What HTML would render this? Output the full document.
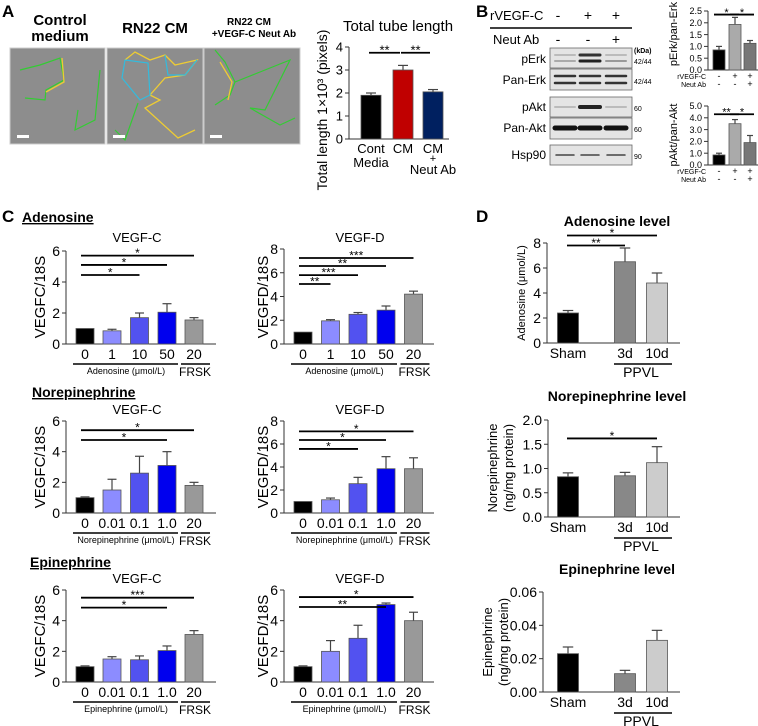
<!DOCTYPE html>
<html><head><meta charset="utf-8"><style>
body{margin:0;background:#fff}
svg{display:block;font-family:"Liberation Sans",Arial,sans-serif}
</style></head><body>
<svg id="fig" width="758" height="726" viewBox="0 0 758 726">
<g id="static">
<text x="2" y="17" font-size="17" font-weight="bold">A</text>
<text x="476" y="17" font-size="17" font-weight="bold">B</text>
<text x="2" y="222" font-size="17" font-weight="bold">C</text>
<text x="476" y="222" font-size="17" font-weight="bold">D</text>
<text x="60" y="25" font-size="15" font-weight="bold" text-anchor="middle">Control</text>
<text x="60" y="41" font-size="15" font-weight="bold" text-anchor="middle">medium</text>
<text x="155" y="33" font-size="15" font-weight="bold" text-anchor="middle">RN22 CM</text>
<text x="249" y="25" font-size="10" font-weight="bold" text-anchor="middle">RN22 CM</text>
<text x="254" y="37" font-size="10" font-weight="bold" text-anchor="middle">+VEGF-C Neut Ab</text>
<g>
<rect x="10" y="48" width="95" height="96" fill="#8d8d8d" stroke="#ccc"/>
<rect x="107" y="48" width="96" height="96" fill="#8d8d8d" stroke="#ccc"/>
<rect x="204" y="48" width="96" height="96" fill="#8d8d8d" stroke="#ccc"/>
<polyline points="20,70 40,65 60,58 64,80 46,90 45,100 25,98" fill="none" stroke="#3c3" stroke-width="1.2"/>
<polyline points="62,58 64,82 46,92" fill="none" stroke="#ec3" stroke-width="1.3"/>
<polyline points="78,110 75,130 95,120 100,70" fill="none" stroke="#3c3" stroke-width="1.2"/>
<polyline points="125,60 135,52 150,60 165,55 175,65 197,60 185,75 165,78 150,95 160,100 145,108 178,138 195,130" fill="none" stroke="#ec3" stroke-width="1.3"/>
<polyline points="125,60 122,78 140,100 150,95 148,63 125,60" fill="none" stroke="#3bd" stroke-width="1.2"/>
<polyline points="165,55 168,75 185,75 197,60" fill="none" stroke="#3bd" stroke-width="1.2"/>
<polyline points="138,103 125,140 115,130" fill="none" stroke="#3c3" stroke-width="1.2"/>
<polyline points="215,50 225,62 235,82 230,95 215,105" fill="none" stroke="#3c3" stroke-width="1.2"/>
<polyline points="220,62 232,82 228,100" fill="none" stroke="#ec3" stroke-width="1.3"/>
<polyline points="235,82 260,72 290,60 265,110 250,108 280,125 295,118" fill="none" stroke="#3c3" stroke-width="1.2"/>
<rect x="17" y="135" width="12" height="3" fill="#fff"/><rect x="113" y="135" width="12" height="3" fill="#fff"/><rect x="210" y="135" width="12" height="3" fill="#fff"/>
</g>
<text x="398" y="31" font-size="15" text-anchor="middle">Total tube length</text>
<text transform="translate(327,110) rotate(-90)" font-size="14" text-anchor="middle">Total length 1×10³ (pixels)</text>
<g font-size="12">
<text x="490" y="20" font-size="13">rVEGF-C</text>
<text x="558" y="20" font-size="14" text-anchor="middle">-</text><text x="588" y="20" font-size="14" text-anchor="middle">+</text><text x="616" y="20" font-size="14" text-anchor="middle">+</text>
<line x1="490" y1="28" x2="632" y2="28" stroke="#000" stroke-width="1.5"/>
<text x="493" y="44" font-size="13">Neut Ab</text>
<text x="558" y="44" font-size="14" text-anchor="middle">-</text><text x="588" y="44" font-size="14" text-anchor="middle">-</text><text x="616" y="44" font-size="14" text-anchor="middle">+</text>
<text x="634" y="53" font-size="7" font-weight="bold">(kDa)</text>
<text x="546" y="63" text-anchor="end">pErk</text><text x="546" y="84" text-anchor="end">Pan-Erk</text>
<text x="546" y="111" text-anchor="end">pAkt</text><text x="546" y="132" text-anchor="end">Pan-Akt</text>
<text x="546" y="159" text-anchor="end">Hsp90</text>
<g font-size="7"><text x="634" y="64">42/44</text><text x="634" y="84">42/44</text><text x="634" y="111">60</text><text x="634" y="132">60</text><text x="634" y="159">90</text></g>
<g fill="#e4e4e4" stroke="#666" stroke-width="0.8">
<rect x="550" y="48" width="82" height="20"/><rect x="550" y="69" width="82" height="21"/>
<rect x="550" y="97" width="82" height="20"/><rect x="550" y="118" width="82" height="21"/><rect x="550" y="145" width="82" height="20"/></g>
<g stroke-linecap="round">
<line x1="555" y1="55" x2="575" y2="55" stroke="#bbb" stroke-width="2"/><line x1="555" y1="61" x2="575" y2="61" stroke="#aaa" stroke-width="2"/>
<line x1="580" y1="55" x2="600" y2="55" stroke="#333" stroke-width="3"/><line x1="580" y1="61" x2="600" y2="61" stroke="#222" stroke-width="3"/>
<line x1="606" y1="55" x2="626" y2="55" stroke="#bbb" stroke-width="2"/><line x1="606" y1="61" x2="626" y2="61" stroke="#999" stroke-width="2"/>
<line x1="555" y1="76" x2="575" y2="76" stroke="#333" stroke-width="2.5"/><line x1="555" y1="83" x2="575" y2="83" stroke="#333" stroke-width="2.5"/>
<line x1="580" y1="76" x2="600" y2="76" stroke="#333" stroke-width="2.5"/><line x1="580" y1="83" x2="600" y2="83" stroke="#333" stroke-width="2.5"/>
<line x1="606" y1="76" x2="626" y2="76" stroke="#333" stroke-width="2.5"/><line x1="606" y1="83" x2="626" y2="83" stroke="#333" stroke-width="2.5"/>
<line x1="555" y1="107" x2="575" y2="107" stroke="#bbb" stroke-width="2"/><line x1="580" y1="107" x2="600" y2="107" stroke="#222" stroke-width="4"/><line x1="606" y1="107" x2="626" y2="107" stroke="#bbb" stroke-width="2"/>
<line x1="555" y1="128" x2="575" y2="128" stroke="#111" stroke-width="5"/><line x1="580" y1="128" x2="600" y2="128" stroke="#111" stroke-width="5"/><line x1="606" y1="128" x2="626" y2="128" stroke="#111" stroke-width="5"/>
<line x1="556" y1="155" x2="574" y2="155" stroke="#444" stroke-width="1.5"/><line x1="581" y1="155" x2="599" y2="155" stroke="#444" stroke-width="1.5"/><line x1="607" y1="155" x2="625" y2="155" stroke="#444" stroke-width="1.5"/>
</g></g>
<text transform="translate(677,34) rotate(-90)" font-size="11" text-anchor="middle">pErk/pan-Erk</text>
<text transform="translate(677,135) rotate(-90)" font-size="11" text-anchor="middle">pAkt/pan-Akt</text>
<g font-size="14" font-weight="bold" text-decoration="underline">
<text x="22" y="222">Adenosine</text>
<text x="32" y="397">Norepinephrine</text>
<text x="30" y="567">Epinephrine</text></g>
<g font-size="13" text-anchor="middle">
<text x="137" y="242">VEGF-C</text>
<text x="360" y="242">VEGF-D</text>
<text x="137" y="414">VEGF-C</text>
<text x="360" y="414">VEGF-D</text>
<text x="137" y="583">VEGF-C</text>
<text x="360" y="583">VEGF-D</text></g>
<g font-size="14" font-weight="bold" text-anchor="middle">
<text x="617" y="226">Adenosine level</text>
<text x="617" y="401">Norepinephrine level</text>
<text x="617" y="574">Epinephrine level</text></g>
<g font-size="15" text-anchor="middle">
<text transform="translate(45,297) rotate(-90)">VEGFC/18S</text>
<text transform="translate(268,297) rotate(-90)">VEGFD/18S</text>
<text transform="translate(45,467) rotate(-90)">VEGFC/18S</text>
<text transform="translate(268,467) rotate(-90)">VEGFD/18S</text>
<text transform="translate(45,636) rotate(-90)">VEGFC/18S</text>
<text transform="translate(268,636) rotate(-90)">VEGFD/18S</text></g>
<text transform="translate(525,293) rotate(-90)" font-size="11" text-anchor="middle">Adenosine (μmol/L)</text>
<g font-size="13" text-anchor="middle">
<text transform="translate(497,468) rotate(-90)">Norepinephrine</text>
<text transform="translate(513,468) rotate(-90)">(ng/mg protein)</text>
<text transform="translate(492,642) rotate(-90)">Epinephrine</text>
<text transform="translate(508,642) rotate(-90)">(ng/mg protein)</text></g>
</g>
<g id="charts"></g>
</svg>
<script>
// ---- data ----
const aCats = ['Cont', 'CM', 'CM'];
const aVals = [1.9, 3.0, 2.05];
const aErrs = [0.1, 0.2, 0.1];
const bErkVals = [0.85, 1.93, 1.13];
const bErkErrs = [0.15, 0.3, 0.12];
const bAktVals = [0.85, 3.5, 1.9];
const bAktErrs = [0.15, 0.35, 0.6];
const bRvegf = ['-', '+', '+'];
const bNeut = ['-', '-', '+'];
const adCats = ['0', '1', '10', '50', '20'];
const neCats = ['0', '0.01', '0.1', '1.0', '20'];
const adCVals = [1.0, 0.85, 1.7, 2.05, 1.55];
const adCErrs = [0, 0.1, 0.3, 0.55, 0.15];
const adDVals = [1.0, 1.95, 2.5, 2.85, 4.2];
const adDErrs = [0, 0.1, 0.15, 0.35, 0.25];
const neCVals = [1.0, 1.5, 2.6, 3.1, 1.8];
const neCErrs = [0.05, 0.7, 1.1, 0.9, 0.2];
const neDVals = [1.0, 1.15, 2.55, 3.85, 3.85];
const neDErrs = [0, 0.15, 0.55, 1.05, 0.95];
const epCVals = [1.0, 1.5, 1.45, 2.05, 3.1];
const epCErrs = [0.05, 0.15, 0.25, 0.3, 0.25];
const epDVals = [1.0, 2.0, 2.85, 5.05, 4.0];
const epDErrs = [0.05, 0.7, 0.85, 0.1, 0.55];
const dCats = ['Sham', '3d', '10d'];
const dAdVals = [2.4, 6.5, 4.8];
const dAdErrs = [0.2, 1.1, 0.8];
const dNeVals = [0.83, 0.85, 1.12];
const dNeErrs = [0.08, 0.07, 0.33];
const dEpVals = [0.023, 0.011, 0.031];
const dEpErrs = [0.004, 0.002, 0.006];
const ticks6 = [0, 2, 4, 6];
const ticks8 = [0, 2, 4, 6, 8];
const ticksD2 = [0, 0.5, 1.0, 1.5, 2.0];
const ticksD06 = [0, 0.02, 0.04, 0.06];

const NS = 'http://www.w3.org/2000/svg';
const root = document.getElementById('charts');
function mk(tag, attrs, parent, txt) {
  const e = document.createElementNS(NS, tag);
  for (const k in attrs) e.setAttribute(k, attrs[k]);
  if (txt !== undefined) e.textContent = txt;
  (parent || root).appendChild(e);
  return e;
}
function barChart(c) {
  const g = mk('g', {});
  
  
  const y = v => c.y0 - (v / c.max) * (c.y0 - c.yTop);
  const cx = i => c.pos[i];
  c.ticks.forEach(t => {
    mk('line', {x1: c.ax - 4, x2: c.ax, y1: y(t), y2: y(t), stroke: '#333', 'stroke-width': 1}, g);
    const tl = mk('text', {x: c.ax - 6, y: y(t) + c.fs * 0.36, 'font-size': c.fs, 'text-anchor': 'end'}, g, c.fmt ? c.fmt(t) : String(t));
    
    
  });
  mk('line', {x1: c.ax, x2: c.ax, y1: y(c.ticks[c.ticks.length - 1]), y2: c.y0, stroke: '#333', 'stroke-width': 1}, g);
  mk('line', {x1: c.ax, x2: c.axEnd, y1: c.y0, y2: c.y0, stroke: '#333', 'stroke-width': 1}, g);
  c.vals.forEach((v, i) => {
    const x = cx(i), top = y(v + c.errs[i]);
    if (c.errs[i] > 0) {
      mk('line', {x1: x, x2: x, y1: y(v), y2: top, stroke: '#444', 'stroke-width': 1.2}, g);
      mk('line', {x1: x - c.bw / 4, x2: x + c.bw / 4, y1: top, y2: top, stroke: '#444', 'stroke-width': 1.2}, g);
    }
    const r = mk('rect', {x: x - c.bw / 2, y: y(v), width: c.bw, height: c.y0 - y(v), fill: c.colors[i], stroke: '#555', 'stroke-width': 0.8}, g);
    
    
  });
  (c.sig || []).forEach(s => {
    const sy = y(s[2]);
    const x1 = cx(s[0]) + (c.sigL || 0), x2 = cx(s[1]) + (c.sigR || 0);
    mk('line', {x1, x2, y1: sy, y2: sy, stroke: '#000', 'stroke-width': 1.8}, g);
    const st = mk('text', {x: (x1 + x2) / 2, y: sy + c.starFs * 0.12, 'font-size': c.starFs, 'text-anchor': 'middle'}, g, s[3]);
    
    
  });
  if (c.cats) c.cats.forEach((t, i) => {
    const tl = mk('text', {x: cx(i), y: c.y0 + c.catDy, 'font-size': c.catFs, 'text-anchor': 'middle'}, g, t);
    
    
  });
  return {g, y, cx};
}
// Panel A
const A = barChart({name: 'chart-a-tube-length', ax: 349, axEnd: 449, y0: 139, yTop: 47, max: 4, ticks: [0, 1, 2, 3, 4], fs: 13,
  pos: [371, 403, 433], bw: 20, vals: aVals, errs: aErrs, colors: ['#000', '#c00000', '#002060'],
  sig: [[0, 1, 3.75, '**'], [1, 2, 3.75, '**']], sigL: -2, sigR: -3, starFs: 13, cats: aCats, catDy: 14, catFs: 13});
mk('text', {x: A.cx(0), y: 167, 'font-size': 13, 'text-anchor': 'middle'}, A.g, 'Media');
mk('text', {x: A.cx(2), y: 162, 'font-size': 11, 'text-anchor': 'middle'}, A.g, '+');
mk('text', {x: A.cx(2), y: 174, 'font-size': 13, 'text-anchor': 'middle'}, A.g, 'Neut Ab');
// Panel B
function bChart(name, vals, errs, y0, yTop, max, ticks, sig) {
  const r = barChart({name, ax: 708, axEnd: 758, y0, yTop, max, ticks, fmt: t => t.toFixed(1), fs: 9, pos: [719, 735, 750], bw: 12,
    vals, errs, colors: ['#000', '#aaa', '#777'], sig, sigL: -5, sigR: 4, starFs: 11});
  mk('text', {x: 706, y: y0 + 9, 'font-size': 7, 'text-anchor': 'end'}, r.g, 'rVEGF-C');
  mk('text', {x: 706, y: y0 + 17, 'font-size': 7, 'text-anchor': 'end'}, r.g, 'Neut Ab');
  bRvegf.forEach((s, i) => mk('text', {x: r.cx(i), y: y0 + 9, 'font-size': 9, 'text-anchor': 'middle'}, r.g, s));
  bNeut.forEach((s, i) => mk('text', {x: r.cx(i), y: y0 + 17, 'font-size': 9, 'text-anchor': 'middle'}, r.g, s));
}
bChart('chart-b-perk', bErkVals, bErkErrs, 70, 11, 2.5, [0, 0.5, 1, 1.5, 2, 2.5], [[0, 1, 2.35, '*'], [1, 2, 2.35, '*']]);
bChart('chart-b-pakt', bAktVals, bAktErrs, 165, 106, 5, [0, 1, 2, 3, 4, 5], [[0, 1, 4.3, '**'], [1, 2, 4.3, '*']]);
// Panel C
const cColors = ['#000', '#8c8cff', '#5252f0', '#0000ee', '#999'];
function cChart(name, ax, pos, y0, yTop, max, ticks, cats, vals, errs, sig, cap) {
  const r = barChart({name, ax, axEnd: ax + 150, y0, yTop, max, ticks, fs: 14, pos, bw: 18,
    vals, errs, colors: cColors, sig, sigL: -4, sigR: 0, starFs: 12, cats, catDy: 15, catFs: 14});
  mk('line', {x1: r.cx(0) - 12, x2: r.cx(3) + 11, y1: y0 + 20, y2: y0 + 20, stroke: '#000', 'stroke-width': 1.5}, r.g);
  mk('line', {x1: r.cx(4) - 13, x2: r.cx(4) + 16, y1: y0 + 20, y2: y0 + 20, stroke: '#000', 'stroke-width': 1.5}, r.g);
  mk('text', {x: (r.cx(0) + r.cx(3)) / 2, y: y0 + 30, 'font-size': 9, 'text-anchor': 'middle'}, r.g, cap);
  mk('text', {x: r.cx(4) + 1, y: y0 + 32, 'font-size': 12, 'text-anchor': 'middle'}, r.g, 'FRSK');
}
const posL = [85, 112, 139.5, 167, 194];
const posR = [303, 330.5, 358, 386, 413.5];
cChart('chart-ad-vegfc', 66, posL, 344, 251, 6, ticks6, adCats, adCVals, adCErrs, [[0, 4, 5.7, '*'], [0, 3, 5.1, '*'], [0, 2, 4.45, '*']], 'Adenosine (μmol/L)');
cChart('chart-ad-vegfd', 284, posR, 344, 249, 8, ticks8, adCats, adDVals, adDErrs, [[0, 4, 7.24, '***'], [0, 3, 6.57, '**'], [0, 2, 5.8, '***'], [0, 1, 5.05, '**']], 'Adenosine (μmol/L)');
cChart('chart-ne-vegfc', 66, posL, 513, 421, 6, ticks6, neCats, neCVals, neCErrs, [[0, 4, 5.4, '*'], [0, 3, 4.76, '*']], 'Norepinephrine (μmol/L)');
cChart('chart-ne-vegfd', 284, posR, 513, 421, 8, ticks8, neCats, neDVals, neDErrs, [[0, 4, 7.1, '*'], [0, 3, 6.35, '*'], [0, 2, 5.57, '*']], 'Norepinephrine (μmol/L)');
cChart('chart-epi-vegfc', 66, posL, 682, 590, 6, ticks6, neCats, epCVals, epCErrs, [[0, 4, 5.5, '***'], [0, 3, 4.85, '*']], 'Epinephrine (μmol/L)');
cChart('chart-epi-vegfd', 284, posR, 682, 590, 6, ticks6, neCats, epDVals, epDErrs, [[0, 4, 5.54, '*'], [0, 3, 4.89, '**']], 'Epinephrine (μmol/L)');
// Panel D
const dPos = [568, 625, 657];
function dChart(name, ax, y0, yTop, max, ticks, fmt, vals, errs, sig) {
  const r = barChart({name, ax, axEnd: 680, y0, yTop, max, ticks, fmt, fs: 14, pos: dPos, bw: 21,
    vals, errs, colors: ['#000', '#888', '#ccc'], sig, sigL: -1, sigR: 0, starFs: 12, cats: dCats, catDy: 15, catFs: 14});
  mk('line', {x1: 614, x2: 672, y1: y0 + 21, y2: y0 + 21, stroke: '#000', 'stroke-width': 1.5}, r.g);
  mk('text', {x: 641, y: y0 + 34, 'font-size': 14, 'text-anchor': 'middle'}, r.g, 'PPVL');
}
dChart('chart-d-adenosine', 547, 343, 243, 8, ticks8, t => String(t), dAdVals, dAdErrs, [[0, 2, 8.6, '*'], [0, 1, 7.8, '**']]);
dChart('chart-d-norepinephrine', 548, 517, 420, 2, ticksD2, t => t.toFixed(1), dNeVals, dNeErrs, [[0, 2, 1.62, '*']]);
dChart('chart-d-epinephrine', 543, 692, 592, 0.06, ticksD06, t => t.toFixed(2), dEpVals, dEpErrs, []);
</script>
</body></html>
